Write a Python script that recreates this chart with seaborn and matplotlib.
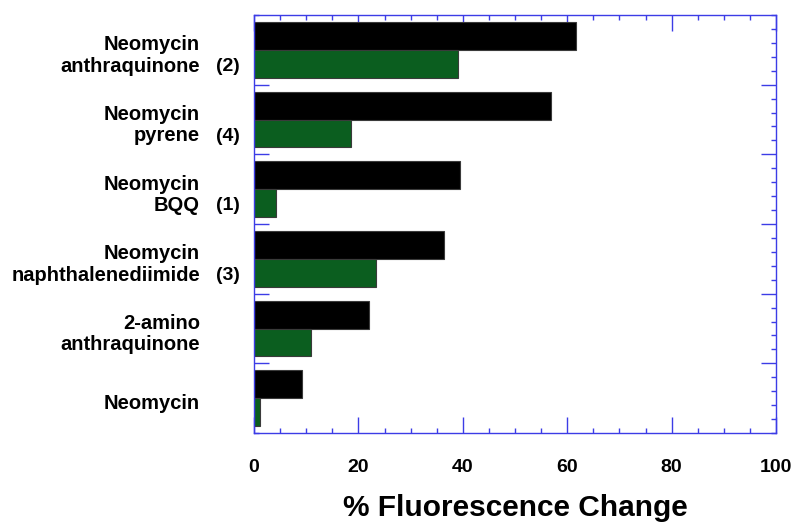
#%% Package Imports

import pandas as pd
import matplotlib.pyplot as plt
import seaborn as sns
import numpy as np

#%% Data

compounds = ['Neomycin\nanthraquinone', 'Neomycin\npyrene', 'Neomycin\nBQQ',
             'Neomycin\nnaphthalenediimide', '2-amino\nanthraquinone', 'Neomycin']
notes = ['(2)', '(4)', '(1)', '(3)', '', '']
black_values = [61.7, 56.9, 39.5, 36.4, 22.1, 9.2]
green_values = [39.1, 18.6, 4.2, 23.3, 11.0, 1.1]
series_names = ['series 1', 'series 2']
xticks = [0, 20, 40, 60, 80, 100]

df = pd.DataFrame({
    'compound': compounds * 2,
    'change': black_values + green_values,
    'series': [series_names[0]] * len(compounds) + [series_names[1]] * len(compounds),
})

#%% Style

sns.set_theme(style = 'white')
plt.rcParams['font.family'] = ['Liberation Sans', 'DejaVu Sans']
plt.rcParams['font.weight'] = 'bold'
plt.rcParams['text.color'] = 'black'
plt.rcParams['axes.labelcolor'] = 'black'
plt.rcParams['xtick.labelcolor'] = 'black'
plt.rcParams['ytick.labelcolor'] = 'black'

axis_blue = '#3c3ce6'

#%% Plot

fig = plt.figure(figsize = (7.97, 5.25), dpi = 100)
ax = fig.add_axes([254 / 797, 1 - 433 / 525, 522 / 797, 418 / 525])

sns.barplot(data = df, y = 'compound', x = 'change', hue = 'series',
    palette = ['black', '#0b5e1f'], orient = 'h', width = 0.8,
    saturation = 1, edgecolor = '#3a3a3a', linewidth = 0.8,
    legend = False, ax = ax)

ax.set_xlim(0, 100)
ax.set_ylim(len(compounds) - 0.5, -0.5)

# x ticks: long ones every 20, short ones every 5, pointing in on top and bottom
ax.set_xticks(xticks)
ax.set_xticklabels([str(t) for t in xticks], fontsize = 14, fontweight = 'bold', color = 'black')
ax.set_xticks(np.arange(0, 101, 5), minor = True)

# y ticks: long ones at group boundaries, short ones every fifth of a group
ax.set_yticks(np.arange(0.5, len(compounds) - 0.5, 1.0))
ax.set_yticklabels([])
ax.set_yticks(np.arange(-0.5, len(compounds) - 0.4, 0.2), minor = True)

ax.tick_params(axis = 'both', which = 'both', direction = 'in', color = axis_blue,
    width = 1.0, top = True, bottom = True, left = True, right = True)
ax.tick_params(axis = 'x', which = 'major', length = 11.5, pad = 19)
ax.tick_params(axis = 'x', which = 'minor', length = 3.5)
ax.tick_params(axis = 'y', which = 'major', length = 11)
ax.tick_params(axis = 'y', which = 'minor', length = 3.5)

for side in ['top', 'bottom', 'left', 'right']:
    ax.spines[side].set_color(axis_blue)
    ax.spines[side].set_linewidth(1.0)

ax.set_ylabel('')
ax.set_xlabel('% Fluorescence Change', fontsize = 21.5, fontweight = 'bold',
    labelpad = 13, color = 'black')

# compound names and reference numbers
ytrans = ax.get_yaxis_transform()
for i, name in enumerate(compounds):
    ax.text(-0.1034, i + 0.08, name, transform = ytrans, ha = 'right', va = 'center',
        multialignment = 'right', fontsize = 14.5, fontweight = 'bold', linespacing = 1.15,
        color = 'black')
    if notes[i]:
        ax.text(-0.027, i + 0.24, notes[i], transform = ytrans, ha = 'right', va = 'center',
            fontsize = 14, fontweight = 'bold', color = 'black')

fig.savefig('out.png', dpi = 100)
